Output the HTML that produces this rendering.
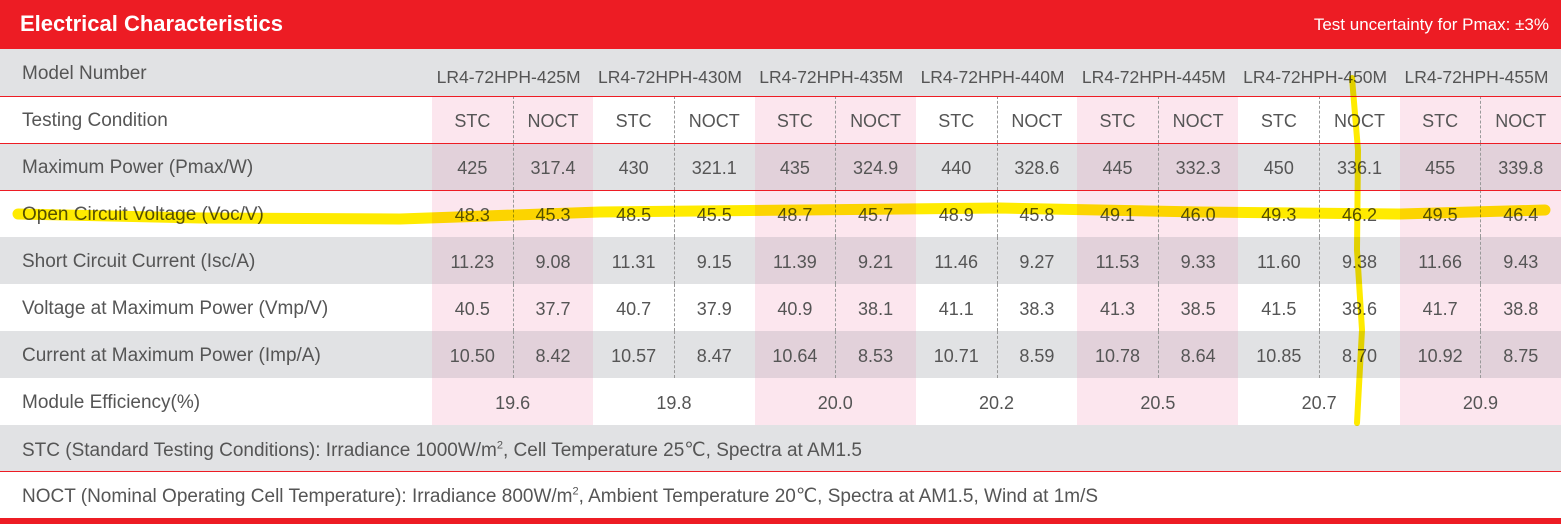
<!DOCTYPE html>
<html><head><style>
body{margin:0;width:1565px;height:524px;background:#fff;font-family:"Liberation Sans",sans-serif;color:#555;position:relative;overflow:hidden}
.hdr{position:absolute;left:0;top:0;width:1561px;height:49px;background:#ed1c24;color:#fff}
.hdr .t{position:absolute;left:20px;top:11px;font-size:22px;font-weight:bold}
.hdr .r{position:absolute;right:12px;top:15px;font-size:17px}
.row{position:absolute;left:0;width:1561px}
.g{background:#e1e2e4}
.lbl{position:absolute;left:22px;font-size:19px;white-space:nowrap}
.cell{position:absolute;text-align:center;font-size:18px}
.rl{position:absolute;left:0;width:1561px;height:1px;background:#ed1c24}
</style></head><body>
<div class="hdr"><div class="t">Electrical Characteristics</div><div class="r">Test uncertainty for Pmax: ±3%</div></div>
<div id="c"></div>
<script>
var tops=[49,96,143,190,237,284,331,378,425,471],hs=[47,47,47,47,47,47,47,47,46,47];
var gray=[1,0,1,0,1,0,1,0,1,0];
var labels=["Model Number","Testing Condition","Maximum Power (Pmax/W)","Open Circuit Voltage (Voc/V)","Short Circuit Current (Isc/A)","Voltage at Maximum Power (Vmp/V)","Current at Maximum Power (Imp/A)","Module Efficiency(%)","STC (Standard Testing Conditions): Irradiance 1000W/m<sup style='font-size:11px'>2</sup>, Cell Temperature 25℃, Spectra at AM1.5","NOCT (Nominal Operating Cell Temperature): Irradiance 800W/m<sup style='font-size:11px'>2</sup>, Ambient Temperature 20℃, Spectra at AM1.5, Wind at 1m/S"];
var data=[null,null,
["425","317.4","430","321.1","435","324.9","440","328.6","445","332.3","450","336.1","455","339.8"],
["48.3","45.3","48.5","45.5","48.7","45.7","48.9","45.8","49.1","46.0","49.3","46.2","49.5","46.4"],
["11.23","9.08","11.31","9.15","11.39","9.21","11.46","9.27","11.53","9.33","11.60","9.38","11.66","9.43"],
["40.5","37.7","40.7","37.9","40.9","38.1","41.1","38.3","41.3","38.5","41.5","38.6","41.7","38.8"],
["10.50","8.42","10.57","8.47","10.64","8.53","10.71","8.59","10.78","8.64","10.85","8.70","10.92","8.75"]];
var eff=["19.6","19.8","20.0","20.2","20.5","20.7","20.9"];
var x0=432,gw=161.3,h='';
for(var r=0;r<10;r++){
 var t=tops[r],H=hs[r];
 h+='<div class="row '+(gray[r]?'g':'')+'" style="top:'+t+'px;height:'+H+'px"></div>';
 if(r>=1&&r<=7){for(var k=0;k<7;k+=2){h+='<div style="position:absolute;left:'+(x0+k*gw)+'px;top:'+t+'px;width:'+gw+'px;height:'+H+'px;background:'+(gray[r]?'#e2d1da':'#fce6ee')+'"></div>';}}
 h+='<div class="lbl" style="top:'+(t+14)+'px">'+labels[r]+'</div>';
 if(r==0){for(var k=0;k<7;k++)h+='<div class="cell" style="left:'+(x0+k*gw-8)+'px;width:'+(gw+8)+'px;top:'+(t+18)+'px;font-size:17.5px">LR4-72HPH-'+(425+5*k)+'M</div>';}
 if(r>=1&&r<=6){for(var k=0;k<14;k++){var v=r==1?(k%2?'NOCT':'STC'):data[r][k];h+='<div class="cell" style="left:'+(x0+k*gw/2)+'px;width:'+(gw/2)+'px;top:'+(t+15)+'px">'+v+'</div>';}
  for(var k=0;k<7;k++)h+='<div style="position:absolute;left:'+Math.round(x0+k*gw+gw/2)+'px;top:'+t+'px;height:'+H+'px;border-left:1px dashed #999"></div>';}
 if(r==7){for(var k=0;k<7;k++)h+='<div class="cell" style="left:'+(x0+k*gw)+'px;width:'+gw+'px;top:'+(t+15)+'px">'+eff[k]+'</div>';}
}
[96,143,190,471].forEach(function(y){h+='<div class="rl" style="top:'+y+'px"></div>';});
h+='<div style="position:absolute;left:0;top:518px;width:1561px;height:6px;background:#ed1c24"></div>';
document.getElementById('c').innerHTML=h;
</script>
<svg width="1565" height="524" style="position:absolute;left:0;top:0;mix-blend-mode:multiply">
<path d="M18 214 L200 218 L400 219 L600 212 L800 210 L1000 208 L1200 212 L1400 214 L1545 210" stroke="#ffeb00" stroke-width="11" fill="none" stroke-linecap="round"/>
<path d="M1352 78 L1358 150 L1357 250 L1362 330 L1357 423" stroke="#ffeb00" stroke-width="6" fill="none" stroke-linecap="round"/>
</svg>
</body></html>
